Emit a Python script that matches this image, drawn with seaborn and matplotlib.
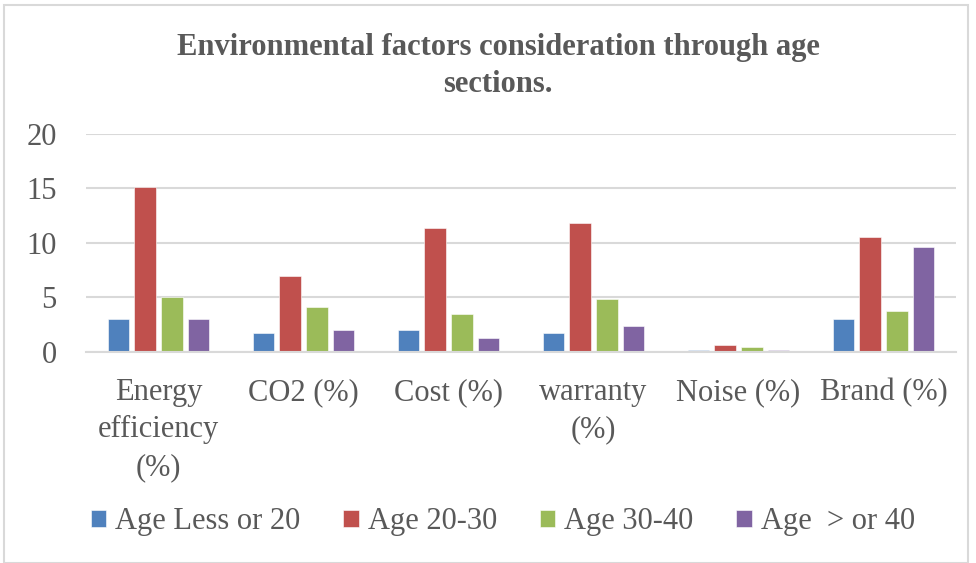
import matplotlib
matplotlib.use("Agg")
import matplotlib.pyplot as plt
import seaborn as sns
import pandas as pd
from matplotlib.patches import Rectangle

categories = ["Energy\nefficiency\n(%)", "CO2 (%)", "Cost (%)", "warranty\n(%)", "Noise (%)", "Brand (%)"]
series_names = ["Age Less or 20", "Age 20-30", "Age 30-40", "Age  > or 40"]
age_less_20 = [3.0, 1.75, 1.95, 1.75, 0.18, 3.0]
age_20_30 = [15.15, 7.0, 11.4, 11.85, 0.6, 10.5]
age_30_40 = [5.0, 4.1, 3.5, 4.8, 0.4, 3.7]
age_over_40 = [3.0, 1.95, 1.25, 2.35, 0.18, 9.65]
y_ticks = [0, 5, 10, 15, 20]

colors = ["#4F81BD", "#C0504D", "#9BBB59", "#8064A2"]
text_color = "#595959"
FS = 22

rows = []
for name, vals in zip(series_names, [age_less_20, age_20_30, age_30_40, age_over_40]):
    for c, v in zip(categories, vals):
        rows.append({"category": c, "series": name, "value": v})
df = pd.DataFrame(rows)

sns.set_theme(style="white")
plt.rcParams["font.family"] = ["Liberation Serif", "DejaVu Serif"]

fig = plt.figure(figsize=(9.76, 5.63), dpi=100)
ax = fig.add_axes([86/976, 1 - 351.7/563, (956-86)/976, (351.7-134)/563])

sns.barplot(data=df, x="category", y="value", hue="series", order=categories,
            hue_order=series_names, palette=colors, width=0.74, gap=0.2,
            edgecolor="white", linewidth=0.4, saturation=1, ax=ax, legend=True)

ax.set_ylim(0, 20)
ax.set_yticks(y_ticks)
ax.set_xlim(-0.5, len(categories) - 0.5)
ax.yaxis.grid(True, color="#d9d9d9", linewidth=1.5)
ax.set_axisbelow(True)
for s in ["top", "right", "left"]:
    ax.spines[s].set_visible(False)
ax.spines["bottom"].set_color("#d9d9d9")
ax.spines["bottom"].set_linewidth(1.5)
ax.tick_params(axis="both", length=0, colors=text_color, labelsize=FS)
ax.tick_params(axis="x", pad=19)
ax.tick_params(axis="y", pad=21)
for lab in ax.get_xticklabels():
    lab.set_linespacing(1.38)
ax.set_xlabel("")
ax.set_ylabel("")

leg = ax.get_legend()
handles, labels = ax.get_legend_handles_labels()
leg.remove()
fig.legend(handles, labels, loc="center", bbox_to_anchor=(503/976, 1 - 522/563),
           ncol=4, frameon=False, fontsize=FS, labelcolor=text_color,
           handlelength=0.5, handleheight=0.5, handletextpad=0.3, columnspacing=1.4)

fig.text(498/976, 1 - 47/563, "Environmental factors consideration through age",
         ha="center", va="center", fontsize=FS, fontweight="bold", color=text_color)
fig.text(498/976, 1 - 85/563, "sections.",
         ha="center", va="center", fontsize=FS, fontweight="bold", color=text_color)

fig.patches.append(Rectangle((4/976, 0.0), (968-4)/976, 1 - 5/563, transform=fig.transFigure,
                             fill=False, edgecolor="#d9d9d9", linewidth=1.5))

fig.savefig("out.png", dpi=100)
